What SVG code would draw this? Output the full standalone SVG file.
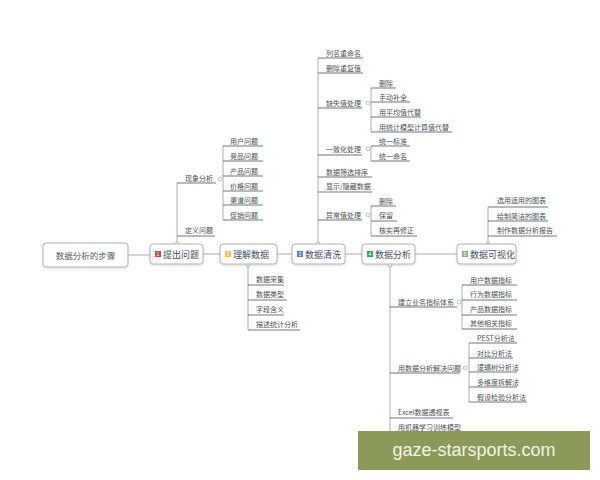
<svg xmlns="http://www.w3.org/2000/svg" width="600" height="480" viewBox="0 0 600 480">
<defs>
<style>
.bg{fill:#ffffff}
.con{stroke:#a9aeb3;stroke-width:1;fill:none}
.ul{stroke:#5f666e;stroke-width:0.9;fill:none}
.dot{fill:#ffffff;stroke:#a9aeb3;stroke-width:0.8}
.box{fill:#ffffff;stroke:#aeb3b8;stroke-width:1}
.t{font-family:"Noto Sans CJK SC","Liberation Sans",sans-serif;font-size:7px;fill:#4a4f55;dominant-baseline:central}
.nt{font-family:"Noto Sans CJK SC","Liberation Sans",sans-serif;font-size:9px;fill:#3e4f66;dominant-baseline:central}
.rt{font-family:"Noto Sans CJK SC","Liberation Sans",sans-serif;font-size:8.5px;fill:#4a5a6a;dominant-baseline:central}
.ic{font-family:"Liberation Sans",sans-serif;font-size:5px;fill:#ffffff;text-anchor:middle;dominant-baseline:central}
.wm{font-family:"Liberation Sans","DejaVu Sans",sans-serif;font-size:18px;fill:#f2f2e6;text-anchor:middle;dominant-baseline:central}
</style>
<filter id="sh" x="-10%" y="-20%" width="120%" height="150%">
<feDropShadow dx="0" dy="1" stdDeviation="0.8" flood-color="#000" flood-opacity="0.15"/>
</filter>
</defs>
<rect class="bg" x="0" y="0" width="600" height="480"/>

<g id="connectors">
<!-- main line -->
<path class="con" d="M128 255H150M203 254H220M277 254H292M345 254H362M415 254H457"/>
<!-- 提出问题 -->
<path class="con" d="M177 244V183"/>
<path class="ul" d="M177 183H216M177 236H215"/>
<path class="con" d="M223 146V220"/>
<path class="ul" d="M223 146H263M223 161H263M223 176H263M223 191H263M223 205H263M223 220H263"/>
<!-- 理解数据 -->
<path class="con" d="M248 264V330"/>
<path class="ul" d="M248 285H284M248 300H287M248 315H284M248 330H300"/>
<!-- 数据清洗 -->
<path class="con" d="M318 244V58"/>
<path class="ul" d="M318 58H363M318 73H363M318 108H362M318 155H362M318 177H372M318 192H372M318 220H362"/>
<path class="con" d="M371 88V132M371 146V161M371 206V236"/>
<path class="ul" d="M371 88H396M371 102H410M371 117H421M371 132H452M371 146H410M371 161H410M371 206H396M371 221H397M371 236H417"/>
<!-- 数据分析 -->
<path class="con" d="M390 264V432"/>
<path class="ul" d="M390 307H457M390 373H460M390 418H453M390 432H463"/>
<path class="con" d="M462 285V329M469 343V402"/>
<path class="ul" d="M462 285H517M462 300H517M462 315H517M462 329H517M469 343H517M469 358H513M469 372H517M469 387H517M469 402H527"/>
<!-- 数据可视化 -->
<path class="con" d="M488 244V207"/>
<path class="ul" d="M488 207H548M488 221H548M488 236H557"/>
<!-- dots -->
<circle class="dot" cx="177" cy="244" r="2"/>
<circle class="dot" cx="220" cy="179" r="2"/>
<circle class="dot" cx="248" cy="265" r="2"/>
<circle class="dot" cx="318" cy="244" r="2"/>
<circle class="dot" cx="368" cy="103" r="2"/>
<circle class="dot" cx="368" cy="149" r="2"/>
<circle class="dot" cx="368" cy="215" r="2"/>
<circle class="dot" cx="390" cy="265" r="2"/>
<circle class="dot" cx="459" cy="302" r="2"/>
<circle class="dot" cx="465" cy="368" r="2"/>
<circle class="dot" cx="488" cy="244" r="2"/>
</g>

<g id="root">
<rect class="box" x="43" y="243" width="85" height="24" rx="3" filter="url(#sh)"/>
<text class="rt" x="85.5" y="255" text-anchor="middle">数据分析的步骤</text>
</g>

<g id="n1">
<rect class="box" x="150" y="244" width="53" height="20" rx="3" filter="url(#sh)"/>
<rect x="155" y="251" width="6" height="6" fill="#d9443f"/>
<text class="ic" x="158" y="254">1</text>
<text class="nt" x="163" y="254">提出问题</text>
</g>
<g id="n2">
<rect class="box" x="220" y="244" width="57" height="20" rx="3" filter="url(#sh)"/>
<rect x="225" y="251" width="6" height="6" fill="#f1c43c"/>
<text class="ic" x="228" y="254">2</text>
<text class="nt" x="233" y="254">理解数据</text>
</g>
<g id="n3">
<rect class="box" x="292" y="244" width="53" height="20" rx="3" filter="url(#sh)"/>
<rect x="297" y="251" width="6" height="6" fill="#5a7fc8"/>
<text class="ic" x="300" y="254">3</text>
<text class="nt" x="305" y="254">数据清洗</text>
</g>
<g id="n4">
<rect class="box" x="362" y="244" width="53" height="20" rx="3" filter="url(#sh)"/>
<rect x="367" y="251" width="6" height="6" fill="#3aa757"/>
<text class="ic" x="370" y="254">4</text>
<text class="nt" x="375" y="254">数据分析</text>
</g>
<g id="n5">
<rect class="box" x="457" y="244" width="59" height="20" rx="3" filter="url(#sh)"/>
<rect x="462" y="251" width="6" height="6" fill="#8fae8c"/>
<text class="ic" x="465" y="254">5</text>
<text class="nt" x="470" y="254">数据可视化</text>
</g>

<g id="n1-children">
<text class="t" x="185" y="178">现象分析</text>
<text class="t" x="185" y="230">定义问题</text>
<text class="t" x="230" y="141">用户问题</text>
<text class="t" x="230" y="156">竞品问题</text>
<text class="t" x="230" y="171">产品问题</text>
<text class="t" x="230" y="186">价格问题</text>
<text class="t" x="230" y="200">渠道问题</text>
<text class="t" x="230" y="215">促销问题</text>
</g>

<g id="n2-children">
<text class="t" x="256" y="279">数据采集</text>
<text class="t" x="256" y="294">数据类型</text>
<text class="t" x="256" y="309">字段含义</text>
<text class="t" x="256" y="324">描述统计分析</text>
</g>

<g id="n3-children">
<text class="t" x="326" y="53">列名重命名</text>
<text class="t" x="326" y="68">删除重复值</text>
<text class="t" x="326" y="103">缺失值处理</text>
<text class="t" x="379" y="83">删除</text>
<text class="t" x="379" y="97">手动补全</text>
<text class="t" x="379" y="112">用平均值代替</text>
<text class="t" x="379" y="127">用统计模型计算值代替</text>
<text class="t" x="326" y="149">一致化处理</text>
<text class="t" x="379" y="141">统一标准</text>
<text class="t" x="379" y="156">统一命名</text>
<text class="t" x="326" y="172">数据筛选排序</text>
<text class="t" x="326" y="186">显示/隐藏数据</text>
<text class="t" x="326" y="215">异常值处理</text>
<text class="t" x="379" y="201">删除</text>
<text class="t" x="379" y="215">保留</text>
<text class="t" x="379" y="230">核实再修正</text>
</g>

<g id="n4-children">
<text class="t" x="398" y="302">建立业务指标体系</text>
<text class="t" x="470" y="280">用户数据指标</text>
<text class="t" x="470" y="294">行为数据指标</text>
<text class="t" x="470" y="309">产品数据指标</text>
<text class="t" x="470" y="323">其他相关指标</text>
<text class="t" x="398" y="368">用数据分析解决问题</text>
<text class="t" x="477" y="338">PEST分析法</text>
<text class="t" x="477" y="353">对比分析法</text>
<text class="t" x="477" y="367">逻辑树分析法</text>
<text class="t" x="477" y="382">多维度拆解法</text>
<text class="t" x="477" y="397">假设检验分析法</text>
<text class="t" x="398" y="412">Excel数据透视表</text>
<text class="t" x="398" y="427">用机器学习训练模型</text>
</g>

<g id="n5-children">
<text class="t" x="497" y="200">选用适用的图表</text>
<text class="t" x="497" y="216">绘制简洁的图表</text>
<text class="t" x="497" y="230">制作数据分析报告</text>
</g>

<g id="watermark">
<rect x="358" y="431" width="232" height="39" fill="#8b9a5b"/>
<text class="wm" x="474" y="450">gaze-starsports.com</text>
</g>
</svg>
